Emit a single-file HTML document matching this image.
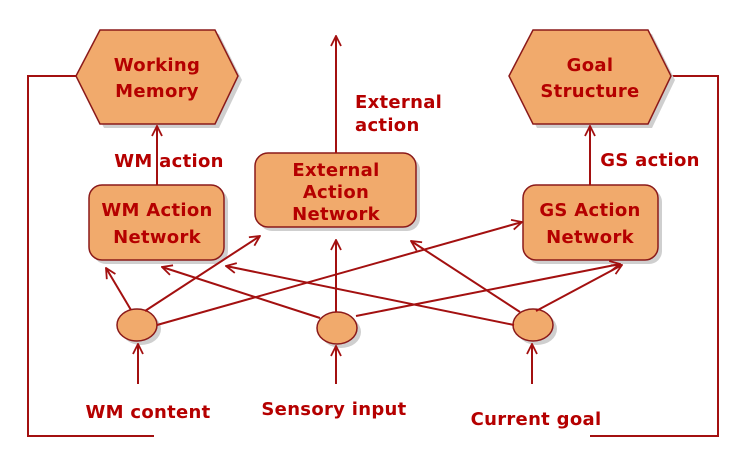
<!DOCTYPE html>
<html><head><meta charset="utf-8"><style>
html,body{margin:0;padding:0;background:#fff;}
svg{display:block;}
text{font-family:"DejaVu Sans","Liberation Sans",sans-serif;font-weight:bold;font-size:18px;letter-spacing:0.3px;fill:#b50000;text-anchor:middle;}
</style></head><body>
<svg width="751" height="464" viewBox="0 0 751 464" xmlns="http://www.w3.org/2000/svg">
<defs>
<marker id="a" viewBox="0 0 12 12" refX="11" refY="6" markerWidth="12" markerHeight="12" markerUnits="userSpaceOnUse" orient="auto">
<path d="M1,1 L11,6 L1,11" fill="none" stroke="#a31010" stroke-width="1.8"/>
</marker>
</defs>
<g fill="none" stroke="#a31010" stroke-width="2">
<polyline points="76,76 28,76 28,436 154,436"/>
<polyline points="671,76 718,76 718,436 590,436"/>
</g>
<g fill="#cfcfcf">
<polygon points="80,80 104,34 219,34 242,80 219,128 104,128"/>
<polygon points="513,80 537,34 652,34 675,80 652,128 537,128"/>
<rect x="93" y="189" width="135" height="75" rx="13"/>
<rect x="259" y="157" width="161" height="74" rx="13"/>
<rect x="527" y="189" width="135" height="75" rx="13"/>
<ellipse cx="141" cy="329" rx="20" ry="16"/>
<ellipse cx="341" cy="332" rx="20" ry="16"/>
<ellipse cx="537" cy="329" rx="20" ry="16"/>
</g>
<g fill="#f1aa6c" stroke="#8b1a1a" stroke-width="1.5">
<polygon points="76,76 100,30 215,30 238,76 215,124 100,124"/>
<polygon points="509,76 533,30 648,30 671,76 648,124 533,124"/>
<rect x="89" y="185" width="135" height="75" rx="13"/>
<rect x="255" y="153" width="161" height="74" rx="13"/>
<rect x="523" y="185" width="135" height="75" rx="13"/>
<ellipse cx="137" cy="325" rx="20" ry="16"/>
<ellipse cx="337" cy="328" rx="20" ry="16"/>
<ellipse cx="533" cy="325" rx="20" ry="16"/>
</g>
<g fill="none" stroke="#a31010" stroke-width="2" marker-end="url(#a)">
<line x1="157" y1="185" x2="157" y2="126"/>
<line x1="336" y1="153" x2="336" y2="36"/>
<line x1="590" y1="185" x2="590" y2="126"/>
<line x1="138" y1="384" x2="138" y2="344"/>
<line x1="336" y1="384" x2="336" y2="346"/>
<line x1="532" y1="384" x2="532" y2="344"/>
<line x1="131" y1="310" x2="106" y2="268"/>
<line x1="145" y1="311" x2="260" y2="236"/>
<line x1="157" y1="325" x2="522" y2="222"/>
<line x1="336" y1="312" x2="336" y2="240"/>
<line x1="320" y1="318" x2="162" y2="267"/>
<line x1="356" y1="316" x2="620" y2="264"/>
<line x1="514" y1="325" x2="226" y2="266"/>
<line x1="520" y1="312" x2="411" y2="241"/>
<line x1="536" y1="311" x2="622" y2="265"/>
</g>
<text x="157" y="71">Working</text>
<text x="157" y="97">Memory</text>
<text x="590" y="71">Goal</text>
<text x="590" y="97">Structure</text>
<text x="157" y="216">WM Action</text>
<text x="157" y="243">Network</text>
<text x="336" y="176">External</text>
<text x="336" y="198">Action</text>
<text x="336" y="220">Network</text>
<text x="590" y="216">GS Action</text>
<text x="590" y="243">Network</text>
<text x="169" y="167">WM action</text>
<text x="650" y="166">GS action</text>
<text x="355" y="108" style="text-anchor:start">External</text>
<text x="355" y="131" style="text-anchor:start">action</text>
<text x="148" y="418">WM content</text>
<text x="334" y="415">Sensory input</text>
<text x="536" y="425">Current goal</text>
</svg>
</body></html>
